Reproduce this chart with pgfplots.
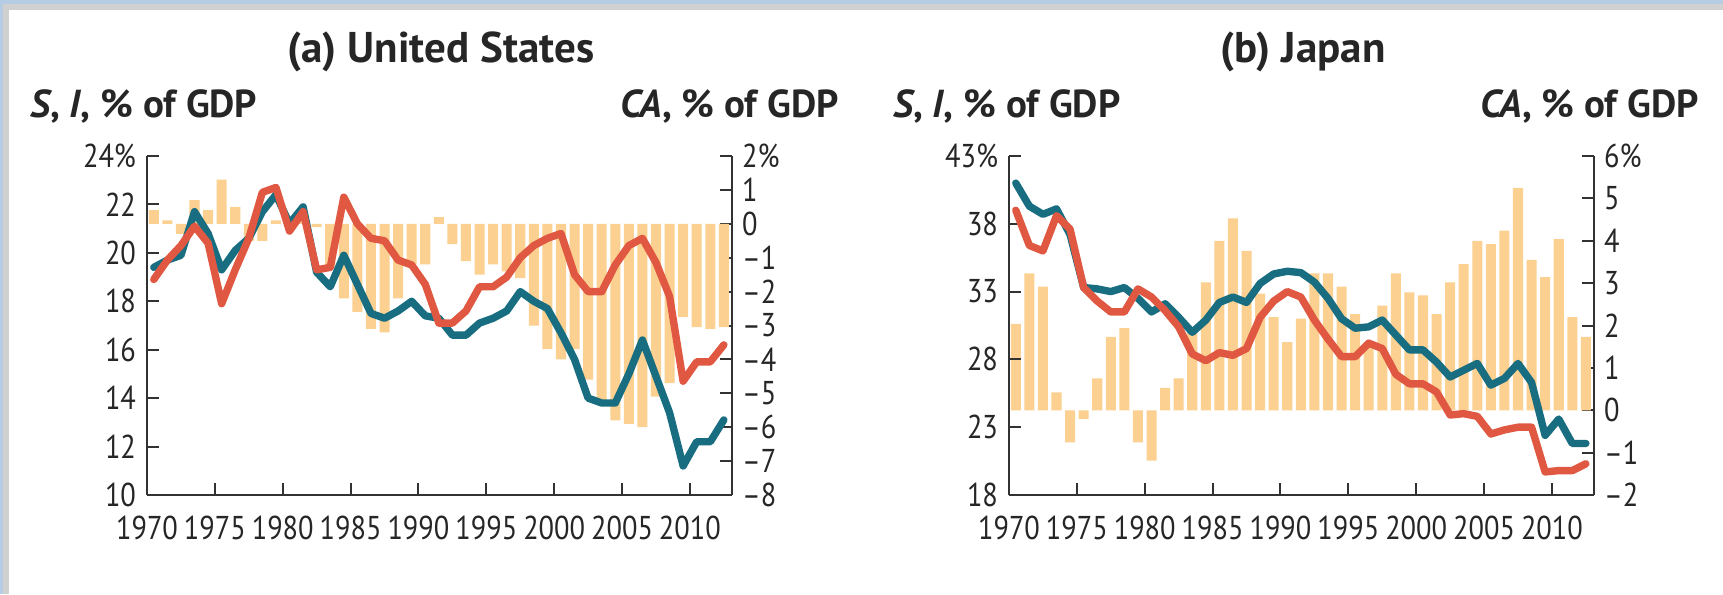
\documentclass[border=0pt]{standalone}
\usepackage{pgfplots}
\pgfplotsset{compat=1.18}
\usepackage{pgfplotstable}
\usepackage{fontspec}
\setmainfont{PT Sans}[FakeStretch=0.86]
\newfontfamily\lblfont{PT Sans}

\definecolor{tealS}{RGB}{24,110,128}
\definecolor{redI}{RGB}{224,88,66}
\definecolor{barCA}{RGB}{251,208,145}
\definecolor{axisgray}{RGB}{50,50,50}
\definecolor{frameblue}{RGB}{182,204,228}
\definecolor{framegray}{RGB}{208,208,208}

% saving S, investment I, current account CA (% of GDP)
\pgfplotstableread{
year S I CA
1970 19.4 18.9 0.4
1971 19.7 19.7 0.1
1972 19.9 20.3 -0.3
1973 21.7 21.1 0.7
1974 20.8 20.4 0.4
1975 19.3 17.9 1.3
1976 20.1 19.3 0.5
1977 20.6 20.6 -0.5
1978 21.7 22.5 -0.5
1979 22.4 22.7 0.1
1980 21.2 20.9 0.0
1981 21.9 21.7 0.1
1982 19.2 19.3 -0.1
1983 18.6 19.4 -1.3
1984 19.9 22.3 -2.2
1985 18.7 21.2 -2.6
1986 17.5 20.6 -3.1
1987 17.3 20.5 -3.2
1988 17.6 19.7 -2.2
1989 18.0 19.5 -1.2
1990 17.4 18.7 -1.2
1991 17.3 17.1 0.2
1992 16.6 17.1 -0.6
1993 16.6 17.6 -1.1
1994 17.1 18.6 -1.5
1995 17.3 18.6 -1.2
1996 17.6 19.0 -1.4
1997 18.4 19.8 -1.6
1998 18.0 20.3 -3.0
1999 17.7 20.6 -3.7
2000 16.7 20.8 -4.0
2001 15.6 19.1 -3.7
2002 14.0 18.4 -4.6
2003 13.8 18.4 -5.2
2004 13.8 19.5 -5.8
2005 15.0 20.3 -5.9
2006 16.4 20.6 -6.0
2007 14.9 19.6 -5.1
2008 13.4 18.2 -4.7
2009 11.2 14.7 -2.75
2010 12.2 15.5 -3.05
2011 12.2 15.5 -3.1
2012 13.1 16.2 -3.05
}\usdata

\pgfplotstableread{
year S I CA
1970 41.0 39.0 2.04
1971 39.3 36.4 3.23
1972 38.7 36.0 2.92
1973 39.1 38.6 0.42
1974 37.2 37.6 -0.76
1975 33.3 33.3 -0.21
1976 33.2 32.3 0.75
1977 33.0 31.5 1.73
1978 33.3 31.5 1.94
1979 32.5 33.2 -0.76
1980 31.5 32.6 -1.19
1981 32.1 31.6 0.53
1982 31.1 30.4 0.75
1983 30.0 28.4 1.9
1984 30.9 27.9 3.02
1985 32.2 28.5 4.0
1986 32.6 28.3 4.53
1987 32.2 28.8 3.76
1988 33.6 31.1 2.75
1989 34.3 32.3 2.2
1990 34.5 33.0 1.61
1991 34.4 32.6 2.16
1992 33.7 30.9 3.23
1993 32.5 29.5 3.23
1994 31.0 28.2 2.92
1995 30.3 28.2 2.27
1996 30.4 29.2 1.61
1997 30.9 28.8 2.47
1998 29.8 26.9 3.23
1999 28.7 26.2 2.78
2000 28.7 26.2 2.71
2001 27.8 25.6 2.27
2002 26.7 23.9 3.02
2003 27.2 24.0 3.45
2004 27.7 23.8 4.0
2005 26.1 22.5 3.92
2006 26.6 22.8 4.24
2007 27.7 23.0 5.25
2008 26.3 23.0 3.55
2009 22.4 19.7 3.14
2010 23.6 19.8 4.04
2011 21.8 19.8 2.2
2012 21.8 20.3 1.73
}\jpdata

\pgfplotsset{
  panel/.style={
    scale only axis, width=292.5pt, height=169.5pt,
    anchor=south west,
    xmin=1970, xmax=2013.1,
    tick align=inside, major tick length=6pt,
    axis line style={-, axisgray, line width=1pt},
    every tick/.style={axisgray, line width=1pt},
    tick label style={font=\fontsize{16.5}{19}\selectfont, text=black!85},
  },
  barpanel/.style={panel, axis y line*=right, axis x line=none,
    yticklabel style={xshift=1.5pt}},
  linepanel/.style={panel, axis y line*=left, axis x line*=bottom,
    xtick={1970,1975,...,2010},
    xticklabels={1970,1975,1980,1985,1990,1995,2000,2005,2010},
    xticklabel style={yshift=-7pt},
    yticklabel style={xshift=-2pt}},
  caBars/.style={ybar, bar width=0.74, fill=barCA, draw=none},
  sLine/.style={tealS, line width=3.7pt, line join=round, line cap=round},
  iLine/.style={redI, line width=3.7pt, line join=round, line cap=round},
}

\newcommand{\lbl}[1]{\lblfont\fontsize{19.5}{21}\selectfont\bfseries #1}
\newcommand{\SI}{\lbl{\itshape S\upshape, \itshape I\upshape, \% of GDP}}
\newcommand{\CA}{\lbl{\itshape CA\upshape, \% of GDP}}

\begin{document}
\begin{tikzpicture}
% frame
\fill[white] (0,0) rectangle (861.5pt,297pt);
\fill[framegray] (0,0) rectangle (4.5pt,295pt);
\fill[framegray] (0,292pt) rectangle (861.5pt,295pt);
\fill[frameblue] (0,295pt) rectangle (861.5pt,297pt);
\fill[frameblue] (0,0) rectangle (1.5pt,297pt);
\useasboundingbox (0,0) rectangle (861.5pt,297pt);

% (a) United States
\begin{axis}[barpanel, at={(73.5pt,49.5pt)},
  ymin=-8, ymax=2, ytick={-8,-7,...,2},
  yticklabels={--8,--7,--6,--5,--4,--3,--2,--1,0,1,2\%}]
\addplot[caBars] table[x expr=\thisrow{year}+0.5, y=CA]{\usdata};
\end{axis}
\begin{axis}[linepanel, at={(73.5pt,49.5pt)},
  ymin=10, ymax=24, ytick={10,12,...,24},
  yticklabels={10,12,14,16,18,20,22,24\%}]
\addplot[sLine] table[x expr=\thisrow{year}+0.5, y=S]{\usdata};
\addplot[iLine] table[x expr=\thisrow{year}+0.5, y=I]{\usdata};
\end{axis}

% (b) Japan
\begin{axis}[barpanel, at={(504.5pt,49.5pt)},
  ymin=-2, ymax=6, ytick={-2,-1,...,6},
  yticklabels={--2,--1,0,1,2,3,4,5,6\%}]
\addplot[caBars] table[x expr=\thisrow{year}+0.5, y=CA]{\jpdata};
\end{axis}
\begin{axis}[linepanel, at={(504.5pt,49.5pt)},
  ymin=18, ymax=43, ytick={18,23,...,43},
  yticklabels={18,23,28,33,38,43\%}]
\addplot[sLine] table[x expr=\thisrow{year}+0.5, y=S]{\jpdata};
\addplot[iLine] table[x expr=\thisrow{year}+0.5, y=I]{\jpdata};
\end{axis}

% titles and axis captions
\node[anchor=base, text=black!85] at (220.5pt,265.5pt) {\lblfont\fontsize{21.5}{23}\selectfont\bfseries (a) United States};
\node[anchor=base, text=black!85] at (651.5pt,265.5pt) {\lblfont\fontsize{21.5}{23}\selectfont\bfseries (b) Japan};
\node[anchor=base west, inner sep=0pt, text=black!85] at (15pt,238pt) {\SI};
\node[anchor=base east, inner sep=0pt, text=black!85] at (419.5pt,238pt) {\CA};
\node[anchor=base west, inner sep=0pt, text=black!85] at (446.5pt,238pt) {\SI};
\node[anchor=base east, inner sep=0pt, text=black!85] at (849.5pt,238pt) {\CA};
\end{tikzpicture}
\end{document}
